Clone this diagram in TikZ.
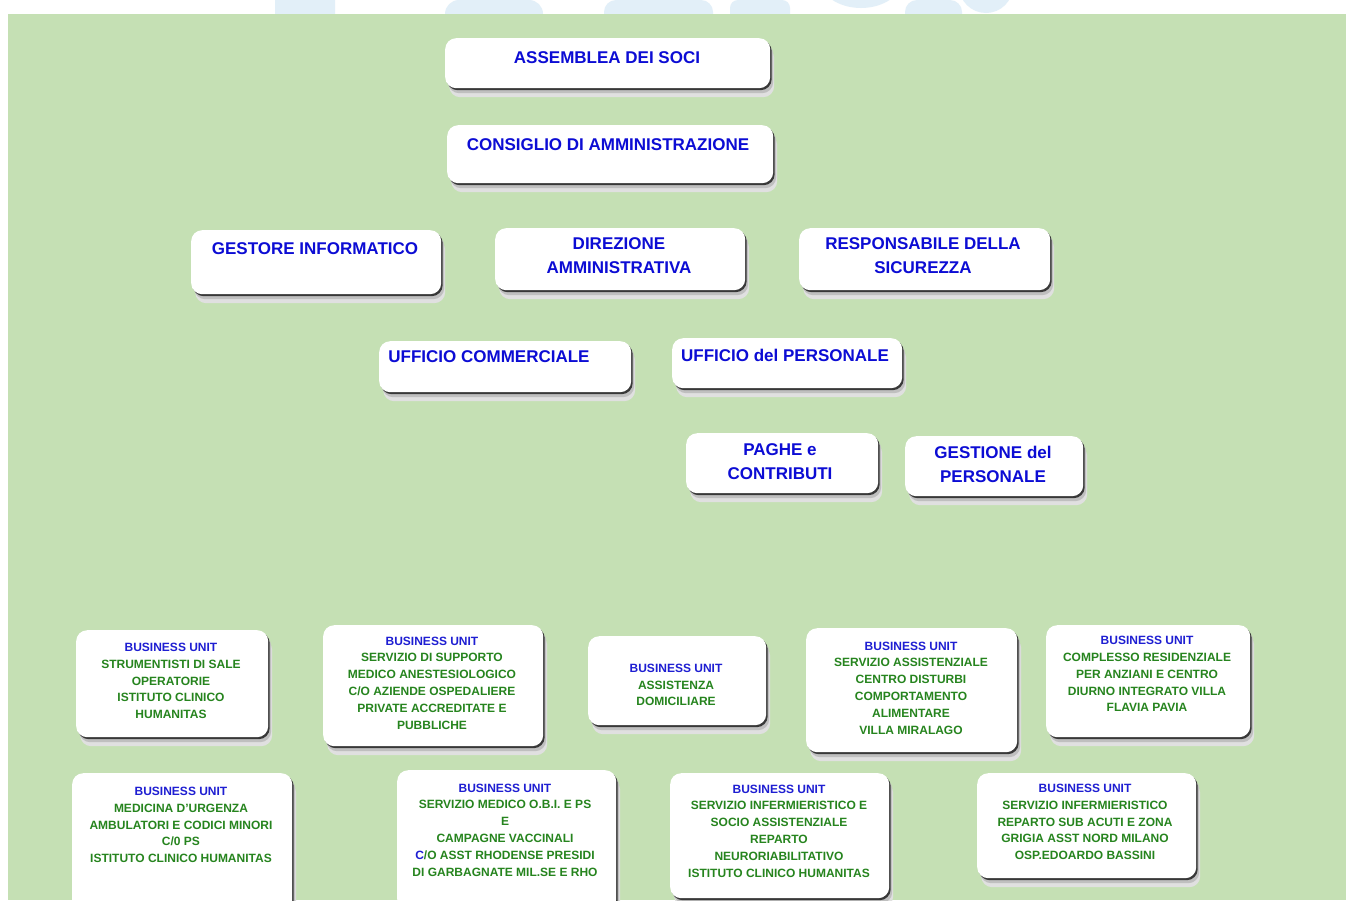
\documentclass[tikz,border=0pt]{standalone}
\usepackage{fontspec}
\setmainfont{Liberation Sans}
\usepackage{tikz}
\usetikzlibrary{shadows}

\definecolor{bggreen}{RGB}{197,224,180}
\definecolor{logoblue}{RGB}{226,239,248}
\definecolor{headblue}{RGB}{12,12,212}
\definecolor{unitblue}{RGB}{30,30,210}
\definecolor{unitgreen}{RGB}{38,132,30}

\newcommand\headfont{\fontsize{17}{24}\selectfont\bfseries}
\newcommand\unitfont{\fontsize{12}{16.8}\selectfont\bfseries}
\newcommand\bu{{\color{unitblue}BUSINESS UNIT}}

\begin{document}
\begin{tikzpicture}[
            x=1pt, y=-1pt,
            box/.style={fill=white, rounded corners=11pt, anchor=north west, inner sep=0pt,
                general shadow={fill=black!12, shadow xshift=4pt, shadow yshift=-9pt}, % wide soft shadow
                general shadow={fill=black!25, shadow xshift=3pt, shadow yshift=-5pt}, % soft shadow
                general shadow={fill=black!78, shadow xshift=1.5pt, shadow yshift=-2pt}}, % dark edge
            head/.style={font=\headfont, text=headblue, align=center}, % office titles
            unit/.style={font=\unitfont, text=unitgreen, align=center} % business units
            ]
        \useasboundingbox (0,0) rectangle (1346,900);

        % background with the logo behind
        \fill[white] (0,0) rectangle (1346,900);
        \fill[logoblue, rounded corners=6pt] (275,-10) rectangle (335,20);
        \fill[logoblue, rounded corners=14pt] (445,0) rectangle (543,30);
        \fill[logoblue, rounded corners=12pt] (604,0) rectangle (713,30);
        \fill[logoblue, rounded corners=8pt] (730,0) rectangle (790,30);
        \fill[logoblue] (861,-22) ellipse [x radius=42, y radius=30];
        \fill[logoblue, rounded corners=12pt] (905,0) rectangle (962,30);
        \fill[logoblue] (986,-14) ellipse [x radius=27, y radius=27];
        \fill[bggreen] (8,14) rectangle (1346,900);

        % governing bodies
        \node[box, minimum width=325, minimum height=50] (soci) at (445,38) {};
        \node[head] (socit) at (607,58) {ASSEMBLEA DEI SOCI};
        \node[box, minimum width=326, minimum height=58] (cda) at (447,125) {};
        \node[head] (cdat) at (608,145) {CONSIGLIO DI AMMINISTRAZIONE};

        % offices
        \node[box, minimum width=250, minimum height=64] (gestore) at (191,230) {};
        \node[head] (gestoret) at (315,249) {GESTORE INFORMATICO};
        \node[box, minimum width=250, minimum height=62] (direzione) at (495,228) {};
        \node[head] (direzionet) at (619,256) {DIREZIONE\\AMMINISTRATIVA};
        \node[box, minimum width=251, minimum height=62] (sicurezza) at (799,228) {};
        \node[head] (sicurezzat) at (923,256) {RESPONSABILE DELLA\\SICUREZZA};
        \node[box, minimum width=252, minimum height=51] (commerciale) at (379,341) {};
        \node[head] (commercialet) at (489,357) {UFFICIO COMMERCIALE};
        \node[box, minimum width=230, minimum height=50] (personale) at (672,338) {};
        \node[head] (personalet) at (785,355) {UFFICIO del PERSONALE};
        \node[box, minimum width=192, minimum height=60] (paghe) at (686,433) {};
        \node[head] (paghet) at (780,462) {PAGHE e\\CONTRIBUTI};
        \node[box, minimum width=178, minimum height=60] (gestione) at (905,436) {};
        \node[head] (gestionet) at (993,464) {GESTIONE del\\PERSONALE};

        % business units, first row
        \node[box, minimum width=192, minimum height=107] (bu1) at (76,630) {};
        \node[unit] (bu1t) at (171,681) {\bu\\STRUMENTISTI DI SALE\\OPERATORIE\\ISTITUTO CLINICO\\HUMANITAS};
        \node[box, minimum width=220, minimum height=121] (bu2) at (323,625) {};
        \node[unit] (bu2t) at (432,683) {\bu\\SERVIZIO DI SUPPORTO\\MEDICO ANESTESIOLOGICO\\C/O AZIENDE OSPEDALIERE\\PRIVATE ACCREDITATE E\\PUBBLICHE};
        \node[box, minimum width=178, minimum height=89] (bu3) at (588,636) {};
        \node[unit] (bu3t) at (676,685) {\bu\\ASSISTENZA\\DOMICILIARE};
        \node[box, minimum width=211, minimum height=124] (bu4) at (806,628) {};
        \node[unit] (bu4t) at (911,688) {\bu\\SERVIZIO ASSISTENZIALE\\CENTRO DISTURBI\\COMPORTAMENTO\\ALIMENTARE\\VILLA MIRALAGO};
        \node[box, minimum width=204, minimum height=112] (bu5) at (1046,625) {};
        \node[unit] (bu5t) at (1147,674) {\bu\\COMPLESSO RESIDENZIALE\\PER ANZIANI E CENTRO\\DIURNO INTEGRATO VILLA\\FLAVIA PAVIA};

        % business units, second row
        \node[box, minimum width=220, minimum height=140] (bu6) at (72,773) {};
        \node[unit] (bu6t) at (181,825) {\bu\\MEDICINA D'URGENZA\\AMBULATORI E CODICI MINORI\\C/0 PS\\ISTITUTO CLINICO HUMANITAS};
        \node[box, minimum width=219, minimum height=140] (bu7) at (397,770) {};
        \node[unit] (bu7t) at (505,830) {\bu\\SERVIZIO MEDICO O.B.I. E PS\\E\\CAMPAGNE VACCINALI\\{\color{unitblue}C}/O ASST RHODENSE PRESIDI\\DI GARBAGNATE MIL.SE E RHO};
        \node[box, minimum width=219, minimum height=125] (bu8) at (670,773) {};
        \node[unit] (bu8t) at (779,831) {\bu\\SERVIZIO INFERMIERISTICO E\\SOCIO ASSISTENZIALE\\REPARTO\\NEURORIABILITATIVO\\ISTITUTO CLINICO HUMANITAS};
        \node[box, minimum width=219, minimum height=105] (bu9) at (977,773) {};
        \node[unit] (bu9t) at (1085,822) {\bu\\SERVIZIO INFERMIERISTICO\\REPARTO SUB ACUTI E ZONA\\GRIGIA ASST NORD MILANO\\OSP.EDOARDO BASSINI};

\end{tikzpicture}
\end{document}
